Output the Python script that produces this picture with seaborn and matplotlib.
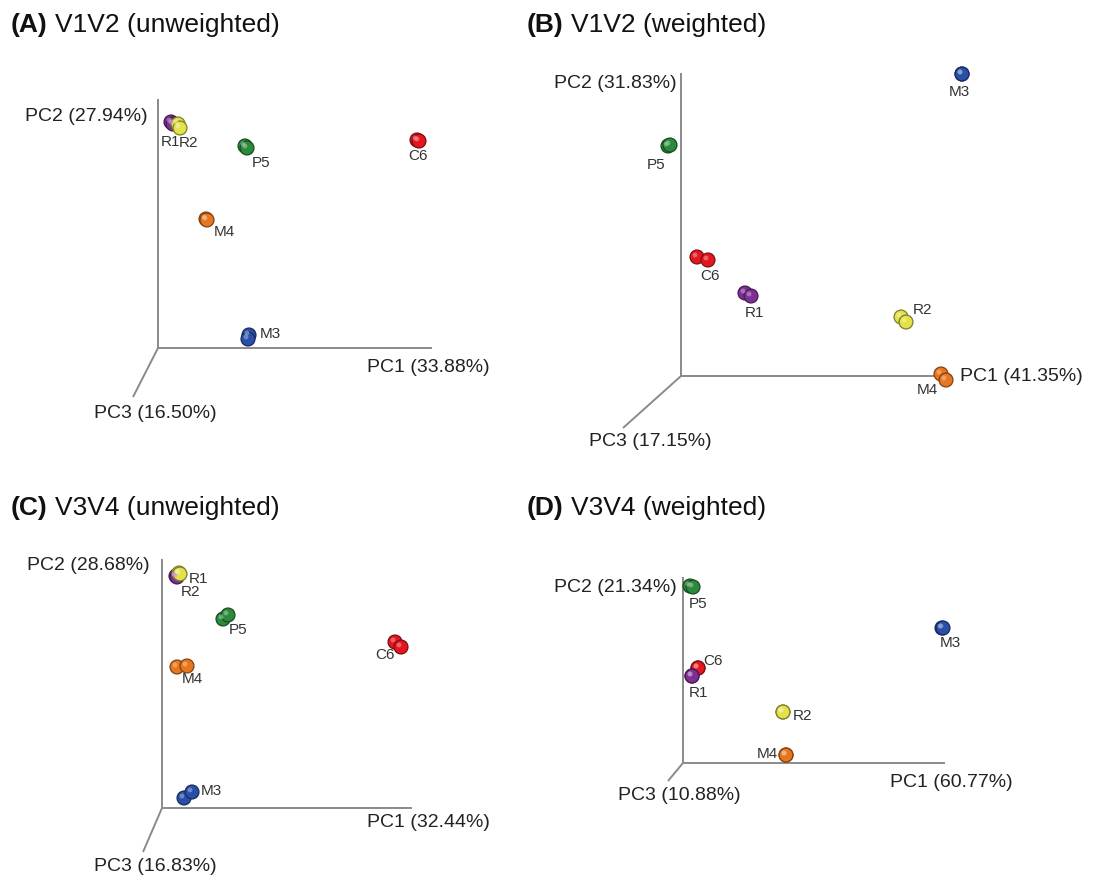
import numpy as np
import pandas as pd
import matplotlib
matplotlib.use("Agg")
import matplotlib.pyplot as plt
import matplotlib.transforms as mtransforms
import matplotlib.colors as mcolors
import seaborn as sns

sns.set_theme(style="white")
plt.rcParams["font.family"] = ["Liberation Sans", "DejaVu Sans"]

W, H = 1097, 879

# Sample colours
palette = {
    "R1": "#7e2f93",
    "R2": "#e4e24a",
    "P5": "#2b8a3c",
    "C6": "#e4171f",
    "M4": "#e8761f",
    "M3": "#2a4fa9",
}

# Projected ordination scores (screen units, origin at the PC axes corner)
a_sample = ["R1", "R1", "R2", "R2", "P5", "P5", "C6", "C6", "M4", "M4", "M3", "M3"]
a_x = [13, 15, 20, 22, 87, 89, 259, 261, 48, 49, 91, 90]
a_y = [226, 224, 224, 220, 202, 200, 208, 207, 129, 128, 13, 9]

b_sample = ["M3", "M3", "P5", "P5", "C6", "C6", "R1", "R1", "R2", "R2", "M4", "M4"]
b_x = [281, 281, -13, -11, 16, 27, 64, 70, 220, 225, 260, 265]
b_y = [302, 302, 230, 231, 119, 116, 83, 80, 59, 54, 2, -4]

c_sample = ["R1", "R1", "R2", "R2", "P5", "P5", "C6", "C6", "M4", "M4", "M3", "M3"]
c_x = [14, 15, 17, 18, 61, 66, 233, 239, 15, 25, 22, 30]
c_y = [232, 231, 235, 234, 189, 193, 166, 161, 141, 142, 10, 16]

d_sample = ["P5", "P5", "M3", "M3", "C6", "C6", "R1", "R1", "R2", "R2", "M4", "M4"]
d_x = [7, 10, 259, 260, 15, 15, 9, 9, 100, 100, 103, 103]
d_y = [177, 176, 135, 135, 95, 95, 87, 87, 51, 51, 8, 8]

# Sample label anchors
a_lab = {"R1": (12, 207), "R2": (31, 206), "P5": (103, 186), "C6": (260, 193), "M4": (66, 117), "M3": (112, 15)}
b_lab = {"M3": (278, 285), "P5": (-25, 212), "C6": (29, 101), "R1": (74, 64), "R2": (241, 67), "M4": (246, -13)}
c_lab = {"R1": (37, 230), "R2": (28, 217), "P5": (76, 179), "C6": (223, 154), "M4": (30, 130), "M3": (49, 18)}
d_lab = {"P5": (15, 160), "M3": (267, 121), "C6": (30, 103), "R1": (16, 71), "R2": (119, 48), "M4": (84, 10)}

# Variance explained per axis
a_var = ["33.88%", "27.94%", "16.50%"]
b_var = ["41.35%", "31.83%", "17.15%"]
c_var = ["32.44%", "28.68%", "16.83%"]
d_var = ["60.77%", "21.34%", "10.88%"]

titles = [("(A)", "V1V2 (unweighted)"), ("(B)", "V1V2 (weighted)"),
          ("(C)", "V3V4 (unweighted)"), ("(D)", "V3V4 (weighted)")]

panels = [
    dict(origin=(158, 349), sample=a_sample, x=a_x, y=a_y, lab=a_lab, var=a_var,
         ends=((274, 0), (0, 249), (-25, -49)),
         pc1=(270, -18, "center"), pc2=(-10, 233), pc3=(-3, -64), title=(11, 25)),
    dict(origin=(681, 377), sample=b_sample, x=b_x, y=b_y, lab=b_lab, var=b_var,
         ends=((271, 0), (0, 303), (-58, -52)),
         pc1=(279, 0, "left"), pc2=(-4, 293), pc3=(-31, -65), title=(527, 25)),
    dict(origin=(162, 809), sample=c_sample, x=c_x, y=c_y, lab=c_lab, var=c_var,
         ends=((250, 0), (0, 249), (-19, -44)),
         pc1=(266, -14, "center"), pc2=(-12, 244), pc3=(-7, -58), title=(11, 508)),
    dict(origin=(683, 764), sample=d_sample, x=d_x, y=d_y, lab=d_lab, var=d_var,
         ends=((262, 0), (0, 186), (-15, -18)),
         pc1=(268, -19, "center"), pc2=(-6, 177), pc3=(-4, -32), title=(527, 508)),
]

fig = plt.figure(figsize=(W / 100, H / 100), dpi=100)
fig.patch.set_facecolor("white")

axis_color = "#8a8a8a"
label_color = "#222222"

for p in panels:
    ox, oy = p["origin"]
    ax = fig.add_axes([0, 0, 1, 1])
    ax.set_xlim(-ox, W - ox)
    ax.set_ylim(-(H - oy), oy)
    ax.set_axis_off()
    ax.patch.set_alpha(0)

    # PC axes
    for ex, ey in p["ends"]:
        ax.plot([0, ex], [0, ey], color=axis_color, lw=1.4, solid_capstyle="butt", zorder=1)

    df = pd.DataFrame({"sample": p["sample"], "pc1": p["x"], "pc2": p["y"]})
    edge = [tuple(np.array(mcolors.to_rgb(palette[s])) * 0.55) for s in df["sample"]]
    sns.scatterplot(data=df, x="pc1", y="pc2", hue="sample", palette=palette,
                    s=100, edgecolor=edge, linewidth=0.9, legend=False, ax=ax, zorder=3)
    # specular highlight to give a spherical look
    hl = [tuple(np.array(mcolors.to_rgb(palette[s])) * 0.45 + 0.55) for s in df["sample"]]
    shift = mtransforms.offset_copy(ax.transData, fig=fig, x=-2, y=2, units="dots")
    ax.scatter(df["pc1"], df["pc2"], s=12, c=hl, alpha=0.6, linewidths=0,
               transform=shift, zorder=4)
    ax.set_xlabel("")
    ax.set_ylabel("")

    for name, (lx, ly) in p["lab"].items():
        ax.text(lx, ly, name, fontsize=11, color="#333333", ha="center", va="center", zorder=5)

    x1, y1, ha1 = p["pc1"]
    ax.text(x1, y1, f"PC1 ({p['var'][0]})", fontsize=14, color=label_color, ha=ha1, va="center")
    x2, y2 = p["pc2"]
    ax.text(x2, y2, f"PC2 ({p['var'][1]})", fontsize=14, color=label_color, ha="right", va="center")
    x3, y3 = p["pc3"]
    ax.text(x3, y3, f"PC3 ({p['var'][2]})", fontsize=14, color=label_color, ha="center", va="center")

# Panel titles: bold tag followed by regular text
for (tag, rest), p in zip(titles, panels):
    tx, ty = p["title"]
    t = fig.text(tx / W, 1 - ty / H, tag, fontsize=19, fontweight="bold",
                 color="#111111", ha="left", va="center")
    fig.canvas.draw()
    bb = t.get_window_extent()
    fig.text((bb.x1 + 7) / W, 1 - ty / H, rest, fontsize=19, color="#111111",
             ha="left", va="center")

fig.savefig("out.png", dpi=100, facecolor="white")
